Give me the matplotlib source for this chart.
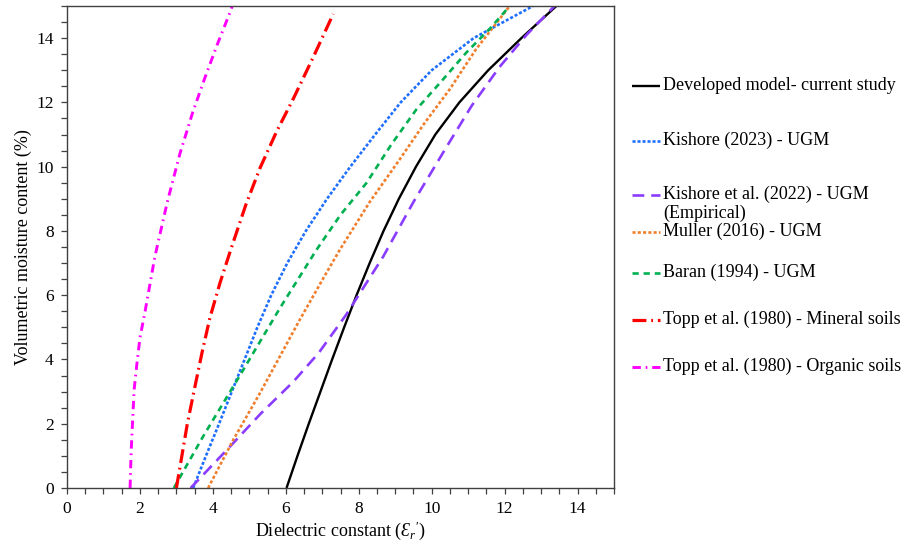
import matplotlib
matplotlib.use("Agg")
import matplotlib.pyplot as plt
from matplotlib.lines import Line2D
from matplotlib.ticker import MultipleLocator

plt.rcParams["font.family"] = ["Liberation Serif", "DejaVu Serif"]
plt.rcParams["mathtext.fontset"] = "custom"
plt.rcParams["mathtext.rm"] = "Liberation Serif"
plt.rcParams["mathtext.it"] = "Liberation Serif:italic"
plt.rcParams["lines.scale_dashes"] = False

# Dielectric constant (x) vs volumetric moisture content (%) for each model
dev_x = [6.02, 6.32, 6.63, 6.95, 7.27, 7.60, 7.94, 8.30, 8.68, 9.10, 9.57, 10.10, 10.76, 11.55, 12.46, 13.42]
dev_y = [0.0, 1.0, 2.0, 3.0, 4.0, 5.0, 6.0, 7.0, 8.0, 9.0, 10.0, 11.0, 12.0, 13.0, 14.0, 15.0]

kish23_x = [3.46, 3.81, 4.17, 4.52, 4.87, 5.22, 5.60, 6.04, 6.55, 7.13, 7.77, 8.45, 9.15, 10.00, 11.15, 12.78]
kish23_y = [0.0, 1.0, 2.0, 3.0, 4.0, 5.0, 6.0, 7.0, 8.0, 9.0, 10.0, 11.0, 12.0, 13.0, 14.0, 15.0]

kish22_x = [3.39, 4.47, 5.30, 6.20, 6.90, 7.66, 8.67, 9.50, 10.40, 11.10, 11.86, 12.60, 13.37]
kish22_y = [0.0, 1.29, 2.3, 3.3, 4.2, 5.4, 7.2, 8.9, 10.6, 11.9, 13.1, 14.1, 15.0]

muller_x = [3.87, 4.56, 5.29, 6.38, 7.11, 7.48, 8.30, 9.12, 9.80, 10.49, 11.22, 12.14]
muller_y = [0.0, 1.5, 2.95, 5.23, 6.69, 7.41, 8.9, 10.22, 11.35, 12.4, 13.66, 15.0]

baran_x = [2.93, 3.73, 4.74, 5.84, 6.84, 7.50, 8.21, 8.90, 9.58, 10.30, 10.95, 11.60, 12.14]
baran_y = [0.0, 1.6, 3.5, 5.6, 7.41, 8.5, 9.49, 10.7, 11.78, 12.7, 13.55, 14.3, 15.0]

topp_min_x = [3.00, 3.15, 3.30, 3.48, 3.70, 3.92, 4.20, 4.50, 4.90, 5.29, 5.75, 6.20, 6.75, 7.30]
topp_min_y = [0.0, 1.0, 2.0, 3.0, 4.2, 5.3, 6.4, 7.45, 8.8, 9.95, 11.1, 12.1, 13.4, 14.75]

topp_org_x = [1.73, 1.75, 1.77, 1.84, 1.91, 2.00, 2.14, 2.41, 2.75, 3.10, 3.45, 3.78, 4.12, 4.47, 4.53]
topp_org_y = [0.0, 0.8, 1.4, 3.05, 3.8, 4.67, 5.49, 7.2, 8.9, 10.42, 11.7, 12.76, 13.8, 14.8, 15.0]

labels = [
    "Developed model- current study",
    "Kishore (2023) - UGM",
    "Kishore et al. (2022) - UGM\n(Empirical)",
    "Muller (2016) - UGM",
    "Baran (1994) - UGM",
    "Topp et al. (1980) - Mineral soils",
    "Topp et al. (1980) - Organic soils",
]

series = [
    (dev_x, dev_y, dict(color="black", lw=1.7, linestyle="-")),
    (kish23_x, kish23_y, dict(color="#1F6FFF", lw=1.9, linestyle=(0, (2.2, 1.4)))),
    (kish22_x, kish22_y, dict(color="#8A3CFF", lw=1.9, linestyle=(0, (8.5, 5.0)))),
    (muller_x, muller_y, dict(color="#F07F2C", lw=1.9, linestyle=(0, (2.2, 1.6)))),
    (baran_x, baran_y, dict(color="#00B050", lw=1.9, linestyle=(0, (4.5, 3.5)))),
    (topp_min_x, topp_min_y, dict(color="#FF0000", lw=2.3, linestyle=(0, (10, 3.5, 1.3, 3.5)))),
    (topp_org_x, topp_org_y, dict(color="#FF00FF", lw=2.1, linestyle=(0, (6, 3.5, 1.2, 3.5)))),
]

W, H = 917, 546
fig = plt.figure(figsize=(W / 100, H / 100), dpi=100)
ax = fig.add_axes([67 / W, (H - 488) / H, (614 - 67) / W, (488 - 6) / H])

for x, y, style in series:
    ax.plot(x, y, solid_capstyle="butt", dash_capstyle="butt", **style)

ax.set_xlim(0, 15)
ax.set_ylim(0, 15)
ax.xaxis.set_major_locator(MultipleLocator(2))
ax.xaxis.set_minor_locator(MultipleLocator(0.5))
ax.yaxis.set_major_locator(MultipleLocator(2))
ax.yaxis.set_minor_locator(MultipleLocator(0.5))
ax.tick_params(which="both", direction="out", color="#404040", width=0.9)
ax.tick_params(which="major", length=4.5, labelsize=12.5, pad=5)
ax.tick_params(which="minor", length=4)
for sp in ax.spines.values():
    sp.set_color("#404040")
    sp.set_linewidth(1.0)

ax.set_xlabel("Dielectric constant ($\\mathit{Ɛ}_r{}'$)", fontsize=13, labelpad=2)
ax.set_ylabel("Volumetric moisture content (%)", fontsize=13, labelpad=3)

# Legend built by hand to the right of the axes (pixel rows from the top)
rows = [86, 141, 195, 232, 273, 320, 367]
for (x, y, style), label, row in zip(series, labels, rows):
    yf = (H - row) / H
    fig.add_artist(Line2D([632 / W, 660 / W], [yf, yf], transform=fig.transFigure,
                          solid_capstyle="butt", dash_capstyle="butt", **style))
    fig.text(663 / W, yf + 9 / H, label, fontsize=13, va="top", ha="left",
             linespacing=1.1)

fig.savefig("out.png", dpi=100)
